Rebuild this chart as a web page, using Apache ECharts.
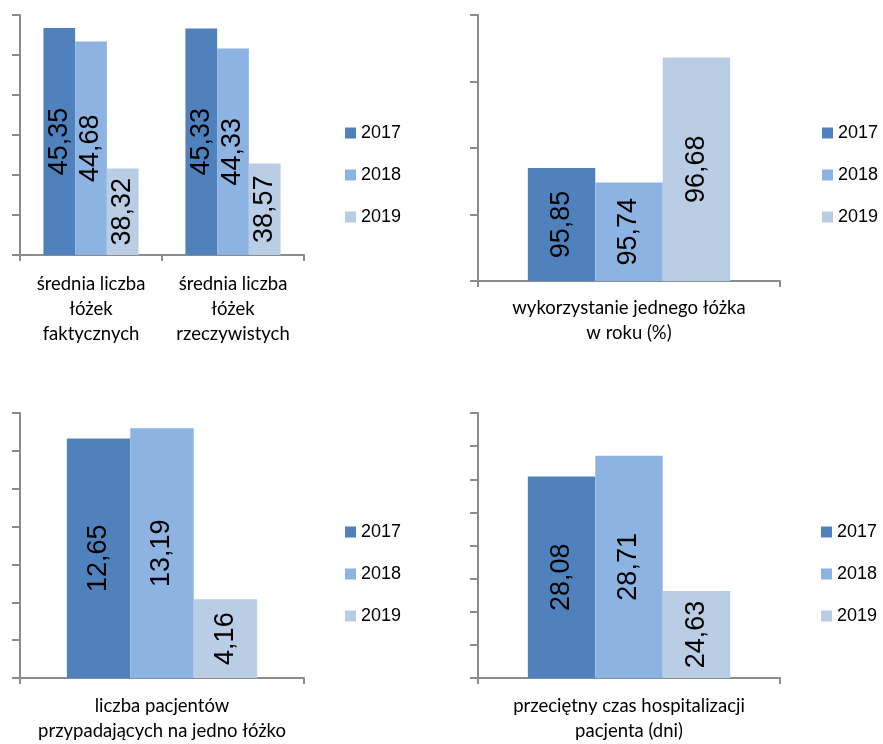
<!DOCTYPE html>
<html>
<head>
<meta charset="utf-8">
<script src="https://cdn.jsdelivr.net/npm/echarts@6/dist/echarts.min.js"></script>
<style>
  html, body { margin: 0; padding: 0; background: #ffffff; }
  #chart { width: 883px; height: 744px; }
</style>
</head>
<body>
<div id="chart"></div>
<script>
// Hospital ward indicators, 2017–2019
const years = ['2017', '2018', '2019'];
const yearColors = ['#4F81BD', '#8DB3E2', '#B9CDE5'];

// Panel 1: average number of beds
const bedCategories = ['średnia liczba\nłóżek\nfaktycznych', 'średnia liczba\nłóżek\nrzeczywistych'];
const beds2017 = [45.35, 45.33];
const beds2018 = [44.68, 44.33];
const beds2019 = [38.32, 38.57];

// Panel 2: bed utilisation per year (%)
const utilCategories = ['wykorzystanie jednego łóżka\nw roku (%)'];
const utilByYear = [95.85, 95.74, 96.68];

// Panel 3: patients per bed
const patientCategories = ['liczba pacjentów\nprzypadających na jedno łóżko'];
const patientsByYear = [12.65, 13.19, 4.16];

// Panel 4: average length of stay (days)
const stayCategories = ['przeciętny czas hospitalizacji\npacjenta (dni)'];
const stayByYear = [28.08, 28.71, 24.63];

// Value-axis ranges for each panel
const axisRanges = [
  { min: 34, max: 46, interval: 2 },
  { min: 95, max: 97, interval: 0.5 },
  { min: 0, max: 14, interval: 2 },
  { min: 22, max: 30, interval: 1 }
];

const axisColor = '#8c8c8c';
const catFont = 'Lato, "Open Sans", sans-serif';
const numFont = '"Liberation Sans Narrow", "Liberation Sans", Arial, sans-serif';

const grids = [
  { left: 20, top: 15, width: 284, height: 240 },
  { left: 478, top: 15, width: 302, height: 266 },
  { left: 20, top: 413, width: 284, height: 270 },
  { left: 478, top: 413, width: 302, height: 270 }
];

const categorySets = [bedCategories, utilCategories, patientCategories, stayCategories];
const labelMargins = [17, 15, 16, 16];

const xAxes = categorySets.map((cats, i) => ({
  type: 'category',
  gridIndex: i,
  data: cats,
  axisLine: { show: true, onZero: false, lineStyle: { color: axisColor, width: 2 } },
  axisTick: { show: true, length: 6, lineStyle: { color: axisColor, width: 2 } },
  axisLabel: {
    interval: 0,
    margin: labelMargins[i],
    color: '#000000',
    fontFamily: catFont,
    fontSize: 18.5,
    lineHeight: 25
  },
  splitLine: { show: false }
}));

const yAxes = axisRanges.map((r, i) => ({
  type: 'value',
  gridIndex: i,
  min: r.min,
  max: r.max,
  interval: r.interval,
  axisLine: { show: true, lineStyle: { color: axisColor, width: 2 } },
  axisTick: { show: true, length: 8, lineStyle: { color: axisColor, width: 2 } },
  axisLabel: { show: false },
  splitLine: { show: false }
}));

function fmt(v) {
  return v.toFixed(2).replace('.', ',');
}

function barSeries(gridIdx, yearIdx, values) {
  return {
    type: 'bar',
    name: years[yearIdx],
    xAxisIndex: gridIdx,
    yAxisIndex: gridIdx,
    data: values,
    barGap: '0%',
    barCategoryGap: '33%',
    itemStyle: { color: yearColors[yearIdx] },
    label: {
      show: true,
      position: 'inside',
      rotate: 90,
      color: '#000000',
      fontFamily: numFont,
      fontSize: 27,
      formatter: p => fmt(p.value)
    },
    emphasis: { disabled: true }
  };
}

const series = [];
[beds2017, beds2018, beds2019].forEach((vals, y) => series.push(barSeries(0, y, vals)));
years.forEach((_, y) => series.push(barSeries(1, y, [utilByYear[y]])));
years.forEach((_, y) => series.push(barSeries(2, y, [patientsByYear[y]])));
years.forEach((_, y) => series.push(barSeries(3, y, [stayByYear[y]])));

const legendPositions = [
  { left: 345, top: 124 },
  { left: 822, top: 124 },
  { left: 345, top: 523 },
  { left: 821, top: 523 }
];

const legends = legendPositions.map(pos => ({
  left: pos.left,
  top: pos.top,
  padding: 0,
  orient: 'vertical',
  data: years,
  icon: 'rect',
  itemWidth: 11,
  itemHeight: 11,
  itemGap: 24,
  selectedMode: false,
  textStyle: {
    color: '#000000',
    fontFamily: '"Liberation Sans", Arial, sans-serif',
    fontSize: 18,
    lineHeight: 18
  }
}));

const chart = echarts.init(document.getElementById('chart'), null, { renderer: 'canvas' });
chart.setOption({
  backgroundColor: '#ffffff',
  animation: false,
  grid: grids,
  xAxis: xAxes,
  yAxis: yAxes,
  legend: legends,
  series: series
});
</script>
</body>
</html>
